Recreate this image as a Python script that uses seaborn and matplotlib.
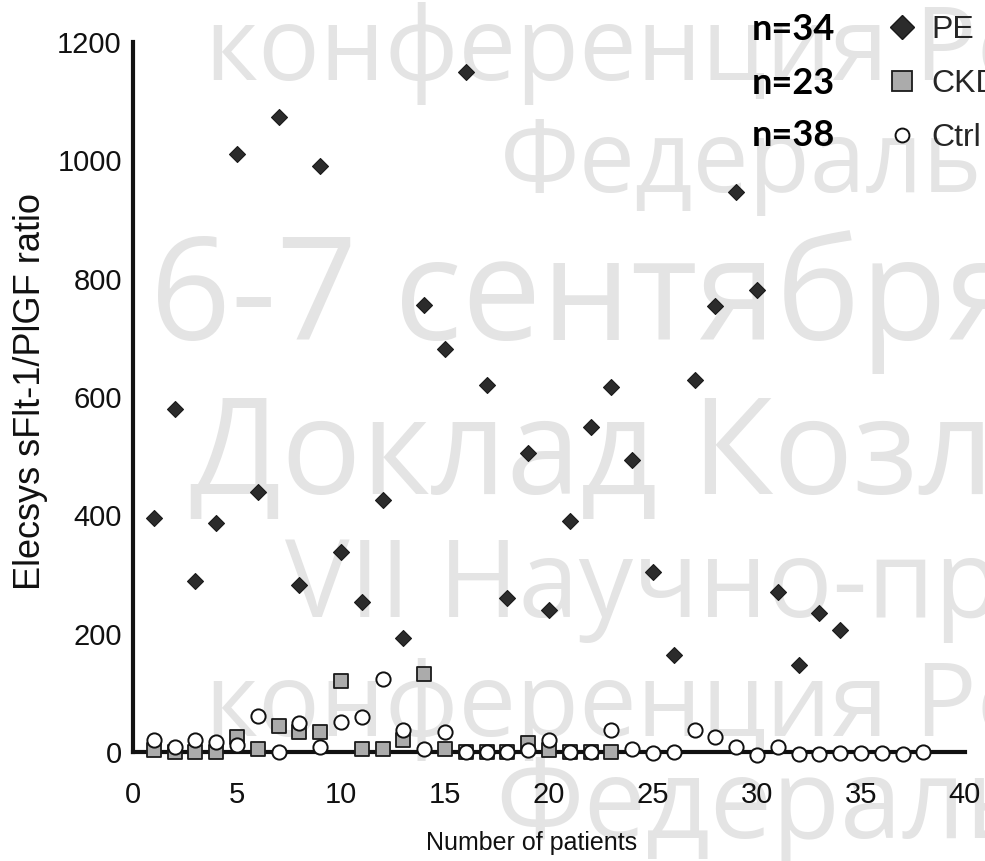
import matplotlib
matplotlib.use("Agg")
import matplotlib.pyplot as plt
from matplotlib.lines import Line2D
import seaborn as sns

# values
pe_patients = list(range(1, 35))
pe_ratio = [395, 580, 290, 388, 1010, 440, 1073, 283, 990, 338, 253, 426, 193, 755, 682,
            1150, 621, 260, 505, 241, 390, 550, 617, 493, 304, 164, 628, 753, 946, 781,
            270, 148, 235, 207]

ckd_patients = list(range(1, 24))
ckd_ratio = [3, 0, 0, 0, 25, 6, 44, 34, 34, 120, 6, 6, 20, 132, 5, 0, 0, 0, 15, 4, 0, 0, 0]

ctrl_patients = list(range(1, 39))
ctrl_ratio = [20, 8, 20, 17, 12, 61, 0, 49, 8, 51, 60, 124, 37, 6, 34, 0, 0, 0, 3, 20,
              0, 0, 37, 6, -2, 0, 37, 26, 9, -4, 8, -3, -3, -1, -1, -2, -3, 0]

group_labels = ["PE", "CKD", "Ctrl"]
y_ticks = [0, 200, 400, 600, 800, 1000, 1200]
x_ticks = [0, 5, 10, 15, 20, 25, 30, 35, 40]

watermark = ["конференция Российская", "Федеральный", "6-7 сентября", "Доклад Козлова",
             "VII Научно-практическая", "конференция Российская", "Федеральный"]

sns.set_theme(style="white")
narrow = ["Liberation Sans Narrow", "Liberation Sans", "DejaVu Sans"]
plt.rcParams["font.family"] = narrow

W, H = 985, 861
fig = plt.figure(figsize=(W / 100, H / 100), dpi=100)
ax = fig.add_axes([128.8 / W, 1 - 767 / H, 846.6 / W, 731 / H])
ax.set_zorder(1)
ax.patch.set_visible(False)

# background watermark
wm_pos = [(205, 80, 74), (500, 192, 72), (150, 340, 102), (190, 494, 96),
          (285, 617, 78), (205, 736, 74), (495, 838, 80)]
for txt, (px, py, fs) in zip(watermark, wm_pos):
    fig.text(px / W, 1 - py / H, txt, fontsize=fs, color="#e4e4e4",
             family=["Open Sans", "DejaVu Sans"], ha="left", va="baseline", zorder=0)

sns.scatterplot(x=ckd_patients, y=ckd_ratio, marker="s", s=95, color="#ababab",
                edgecolor="#1a1a1a", linewidth=1.3, ax=ax, zorder=3, clip_on=False)
sns.scatterplot(x=ctrl_patients, y=ctrl_ratio, marker="o", s=105, color="white",
                edgecolor="#111111", linewidth=1.4, ax=ax, zorder=4, clip_on=False)
sns.scatterplot(x=pe_patients, y=pe_ratio, marker="D", s=66, color="#2b2b2b",
                edgecolor="#1a1a1a", linewidth=0.8, ax=ax, zorder=5, clip_on=False)

ax.set_xlim(-0.2, 40.5)
ax.set_ylim(-25, 1210)
sns.despine(ax=ax)
ax.spines["left"].set_position(("data", 0))
ax.spines["bottom"].set_position(("data", 0))
ax.spines["left"].set_bounds(0, 1200)
ax.spines["bottom"].set_bounds(0, 40)
for side in ["left", "bottom"]:
    ax.spines[side].set_linewidth(3)
    ax.spines[side].set_color("#111111")

ax.set_xticks(x_ticks)
ax.set_yticks(y_ticks)
ax.tick_params(axis="both", direction="out", length=4, width=1.5, colors="#111111",
               labelsize=21, labelcolor="#111111")
ax.tick_params(axis="x", pad=17)
ax.tick_params(axis="y", pad=4)

ax.set_xlabel("Number of patients", fontsize=18, color="#111111")
ax.set_ylabel("Elecsys sFlt-1/PlGF ratio", fontsize=26, color="#111111")
ax.xaxis.set_label_coords(0.476, -0.088)
ax.yaxis.set_label_coords(-0.095, 0.513)

handles = [
    Line2D([], [], ls="none", marker="D", ms=12, mfc="#2b2b2b", mec="#1a1a1a"),
    Line2D([], [], ls="none", marker="s", ms=15, mfc="#ababab", mec="#1a1a1a", mew=1.3),
    Line2D([], [], ls="none", marker="o", ms=10, mfc="white", mec="#111111", mew=1.4),
]
fig.legend(handles=handles, labels=group_labels, loc="upper left",
           bbox_to_anchor=(885.7 / W, 1 - 15 / H), bbox_transform=fig.transFigure,
           frameon=False, fontsize=23, handlelength=1.0, handletextpad=0.42,
           labelspacing=0.75, borderpad=0, borderaxespad=0)

n_rows = [30, 83, 135]
counts = [len(pe_ratio), len(ckd_ratio), len(ctrl_ratio)]
for n, py in zip(counts, n_rows):
    fig.text(835 / W, 1 - py / H, f"n={n}", ha="right", va="center", fontsize=26,
             fontweight="bold", family=["Lato", "DejaVu Sans"], color="black")

fig.savefig("out.png", dpi=100)
